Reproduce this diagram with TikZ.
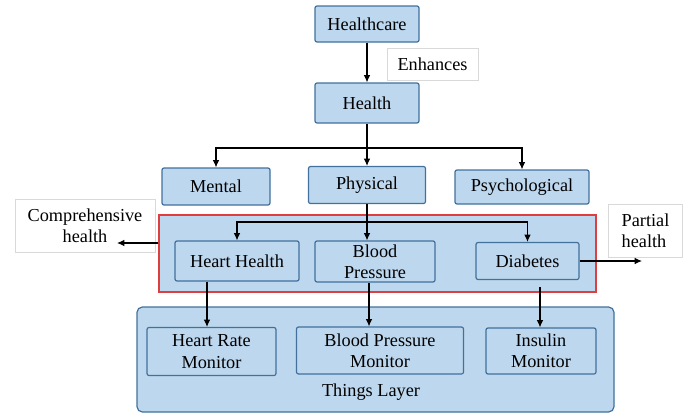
\documentclass[tikz,border=0pt]{standalone}
\usepackage{fontspec}
\setmainfont{Liberation Serif}
\usepackage{tikz}
\usetikzlibrary{calc,arrows.meta}

\definecolor{boxfill}{RGB}{189,215,238}
\definecolor{boxline}{RGB}{65,113,156}
\definecolor{redline}{RGB}{222,62,62}
\definecolor{noteline}{RGB}{217,217,217}
\newcommand{\hfont}{\fontsize{13.7}{16}\selectfont}

\tikzset{
  bluebox/.style={draw=boxline, fill=boxfill, line width=0.9pt, rounded corners=1.5pt, inner sep=0pt, align=center, font=\hfont},
  notebox/.style={draw=noteline, fill=white, line width=0.5pt, inner sep=0pt, font=\hfont},
  arr/.style={-{Latex[length=5.5pt,width=5pt]}, line width=0.8pt},
  link/.style={line width=0.8pt}
}

\begin{document}
\begin{tikzpicture}[x=0.75pt,y=0.75pt,yscale=-1,xscale=1]
\path[use as bounding box] (0,0) rectangle (690,414);
%Things layer
\node [bluebox, rounded corners=4pt, minimum width=357.75pt, minimum height=78.75pt] (things) at (375.5,359.5) {};
\node [font=\hfont] (thingstext) at (371,392) {Things Layer};
%Health layer
\node [draw=redline, fill=boxfill, line width=0.9pt, minimum width=327.75pt, minimum height=57.75pt, inner sep=0pt] (hlayer) at (377.5,253.5) {};
%Top nodes
\node [bluebox, minimum width=78pt, minimum height=27pt] (healthcare) at (367,24) {Healthcare};
\node [notebox, minimum width=68.25pt, minimum height=24pt] (enhances) at (432.5,64) {Enhances};
\node [bluebox, minimum width=78pt, minimum height=30pt] (health) at (367,103) {Health};
\node [bluebox, minimum width=81pt, minimum height=27.75pt] (mental) at (216,186.5) {Mental};
\node [bluebox, minimum width=87.75pt, minimum height=27.75pt] (physical) at (367,185) {Physical};
\node [bluebox, minimum width=100.5pt, minimum height=25.5pt] (psycho) at (522,187) {Psychological};
%Inner nodes
\node [bluebox, minimum width=93pt, minimum height=30pt] (heart) at (237,261) {Heart Health};
\node [bluebox, minimum width=90pt, minimum height=30.75pt] (blood) at (375,261.5) {Blood\\Pressure};
\node [bluebox, minimum width=77.25pt, minimum height=27.75pt] (diabetes) at (527.5,261) {Diabetes};
%Monitors
\node [bluebox, minimum width=96.75pt, minimum height=36pt] (hrmon) at (211.5,351.5) {Heart Rate\\Monitor};
\node [bluebox, minimum width=125.25pt, minimum height=35.25pt] (bpmon) at (380,350.5) {Blood Pressure\\Monitor};
\node [bluebox, minimum width=82.5pt, minimum height=34.5pt] (insmon) at (541,351) {Insulin\\Monitor};
%Side notes
\node [notebox, minimum width=105pt, minimum height=39.75pt, align=center] (compr) at (85,225.5) {Comprehensive\\health};
\node [notebox, minimum width=55.5pt, minimum height=39.75pt, align=left] (partial) at (645.5,230.5) {Partial\\health};

%Connectors
\coordinate (hsplit) at (367,148);
\coordinate (psplit) at (367,222);
\coordinate (dstart) at (540,287);
\coordinate (compend) at (117,243);
\coordinate (partend) at (642,261);
\draw [arr] (healthcare) -- (health);
\draw [link] (health) -- (hsplit);
\draw [arr] (hsplit) -| (mental);
\draw [arr] (hsplit) -- (physical);
\draw [arr] (hsplit) -| (psycho);
\draw [arr] (physical.south) -- (physical.south |- blood.north);
\draw [arr] (psplit) -| (heart);
\draw [arr] (psplit) -| (diabetes);
\draw [arr] ([xshift=-22.5pt]heart.south) -- ([xshift=-22.5pt]heart.south |- hrmon.north);
\draw [arr] ([xshift=-4.5pt]blood.south) -- ([xshift=-4.5pt]blood.south |- bpmon.north);
\draw [arr] (dstart) -- (dstart |- insmon.north);
\draw [arr] (diabetes) -- (partend);
\draw [arr] (compend -| hlayer.west) -- (compend);
\end{tikzpicture}
\end{document}
